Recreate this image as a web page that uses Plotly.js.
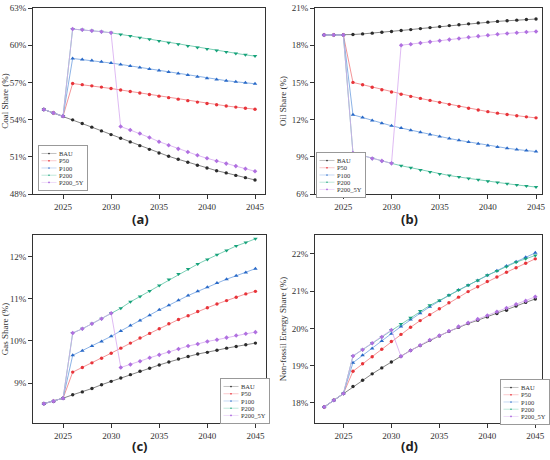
<!DOCTYPE html>
<html>
<head>
<meta charset="utf-8">
<script src="https://cdn.plot.ly/plotly-3.0.1.min.js"></script>
<style>
html,body{margin:0;padding:0;background:#fff;}
#chart{width:550px;height:460px;}
</style>
</head>
<body>
<div id="chart"></div>
<script>
// ---------------- DATA ----------------
const years = [2023,2024,2025,2026,2027,2028,2029,2030,2031,2032,2033,2034,2035,2036,2037,2038,2039,2040,2041,2042,2043,2044,2045];
const seriesNames = ['BAU','P50','P100','P200','P200_5Y'];

// (a) Coal share (%)
const coalBAU  = [54.81,54.54,54.27,53.98,53.68,53.39,53.09,52.79,52.50,52.20,51.90,51.60,51.31,51.04,50.80,50.56,50.32,50.10,49.88,49.70,49.50,49.32,49.13];
const coalP50  = [54.81,54.54,54.27,56.91,56.82,56.72,56.62,56.51,56.39,56.27,56.15,56.02,55.89,55.77,55.65,55.53,55.41,55.30,55.20,55.10,55.01,54.92,54.84];
const coalP100 = [54.81,54.54,54.27,58.93,58.85,58.76,58.66,58.56,58.45,58.33,58.21,58.09,57.96,57.84,57.71,57.59,57.46,57.34,57.24,57.14,57.05,56.97,56.89];
const coalP200 = [54.81,54.54,54.27,61.30,61.24,61.17,61.09,61.00,60.87,60.74,60.61,60.47,60.33,60.20,60.07,59.94,59.81,59.69,59.57,59.45,59.33,59.22,59.12];
const coal5Y   = [54.81,54.54,54.27,61.30,61.24,61.17,61.09,61.00,53.44,53.16,52.88,52.56,52.22,51.93,51.64,51.38,51.12,50.88,50.66,50.45,50.25,50.04,49.83];

// (b) Oil share (%)
const oilBAU  = [18.83,18.83,18.83,18.86,18.91,18.97,19.04,19.11,19.19,19.26,19.34,19.42,19.50,19.58,19.65,19.72,19.80,19.86,19.92,19.97,20.02,20.07,20.11];
const oilP50  = [18.83,18.83,18.83,15.00,14.81,14.61,14.41,14.22,14.04,13.87,13.71,13.55,13.39,13.23,13.07,12.92,12.78,12.64,12.52,12.41,12.31,12.22,12.14];
const oilP100 = [18.83,18.83,18.83,12.39,12.16,11.93,11.71,11.50,11.32,11.14,10.97,10.80,10.64,10.48,10.33,10.19,10.05,9.92,9.80,9.69,9.59,9.50,9.42];
const oilP200 = [18.83,18.83,18.83,9.31,9.09,8.87,8.67,8.47,8.28,8.11,7.94,7.77,7.61,7.49,7.37,7.25,7.14,7.03,6.93,6.83,6.73,6.64,6.56];
const oil5Y   = [18.83,18.83,18.83,9.31,9.09,8.87,8.67,8.47,18.00,18.08,18.17,18.27,18.36,18.45,18.54,18.64,18.73,18.81,18.88,18.95,19.01,19.06,19.11];

// (c) Gas share (%)
const gasBAU  = [8.51,8.57,8.64,8.72,8.79,8.87,8.96,9.04,9.12,9.20,9.28,9.35,9.43,9.50,9.57,9.63,9.69,9.73,9.78,9.83,9.87,9.91,9.95];
const gasP50  = [8.51,8.57,8.64,9.26,9.37,9.48,9.59,9.71,9.83,9.95,10.07,10.18,10.29,10.41,10.51,10.60,10.70,10.79,10.88,10.96,11.04,11.12,11.18];
const gasP100 = [8.51,8.57,8.64,9.66,9.77,9.88,9.99,10.11,10.24,10.37,10.49,10.61,10.74,10.85,10.97,11.08,11.18,11.28,11.38,11.47,11.55,11.63,11.72];
const gasP200 = [8.51,8.57,8.64,10.19,10.29,10.41,10.53,10.66,10.78,10.93,11.06,11.19,11.32,11.46,11.59,11.71,11.83,11.94,12.05,12.15,12.26,12.34,12.43];
const gas5Y   = [8.51,8.57,8.64,10.19,10.29,10.41,10.53,10.66,9.37,9.44,9.52,9.60,9.67,9.74,9.81,9.88,9.93,9.99,10.03,10.08,10.13,10.17,10.21];

// (d) Non-fossil energy share (%)
const nfBAU  = [17.89,18.07,18.25,18.44,18.61,18.78,18.94,19.10,19.25,19.41,19.54,19.68,19.80,19.92,20.03,20.13,20.22,20.31,20.40,20.49,20.60,20.70,20.79];
const nfP50  = [17.89,18.07,18.25,18.85,19.05,19.24,19.44,19.65,19.84,20.03,20.21,20.37,20.53,20.69,20.84,20.99,21.12,21.26,21.38,21.51,21.63,21.75,21.87];
const nfP100 = [17.89,18.07,18.25,19.08,19.28,19.46,19.66,19.86,20.05,20.24,20.41,20.58,20.74,20.89,21.03,21.16,21.29,21.43,21.55,21.68,21.79,21.91,22.03];
const nfP200 = [17.89,18.07,18.25,19.26,19.43,19.60,19.77,19.96,20.12,20.29,20.47,20.62,20.75,20.89,21.03,21.16,21.29,21.43,21.54,21.66,21.78,21.87,21.96];
const nf5Y   = [17.89,18.07,18.25,19.26,19.43,19.60,19.77,19.96,19.25,19.41,19.55,19.69,19.81,19.93,20.05,20.15,20.25,20.35,20.45,20.55,20.65,20.74,20.85];

const panelLabels = ['(a)','(b)','(c)','(d)'];
const yTitles = ['Coal Share (%)','Oil Share (%)','Gas Share (%)','Non-fossil Energy Share (%)'];

// ---------------- STYLE ----------------
const markerColors = ['#2b2b2b','#e8343a','#2a6ac8','#17a27a','#b070e0'];
const lineColors   = ['#666666','#f07a7e','#6ea0e0','#5cc4a3','#d6a8f0'];
const symbols      = ['circle','circle','triangle-up','triangle-down','diamond'];
const markerSizes  = [3.4,3.4,4,4,3.5];
const serif = '"Liberation Serif","Times New Roman",serif';

// legend top-left corners in pixels (final placement)
const panels = [
  {data:[coalBAU,coalP50,coalP100,coalP200,coal5Y], xd:[33/550,265/550], yd:[1-194/460,1-8/460], xr:[2021.87,2046.04], yr:[48,63], dt:3, leg:[38,145]},
  {data:[oilBAU,oilP50,oilP100,oilP200,oil5Y],     xd:[315/550,542/550], yd:[1-194/460,1-8/460], xr:[2022.06,2045.62], yr:[6,21], dt:3, leg:[316,152]},
  {data:[gasBAU,gasP50,gasP100,gasP200,gas5Y],     xd:[33/550,266/550], yd:[1-423/460,1-235/460], xr:[2021.87,2046.1], yr:[8.05,12.52], dt:1, leg:[220,378]},
  {data:[nfBAU,nfP50,nfP100,nfP200,nf5Y],          xd:[315/550,542/550], yd:[1-423/460,1-235/460], xr:[2022.04,2045.7], yr:[17.46,22.51], dt:1, leg:[500,379]}
];

const traces = [];
const layout = {
  width:550, height:460,
  margin:{l:0,r:0,t:0,b:0},
  paper_bgcolor:'#fff', plot_bgcolor:'#fff',
  showlegend:true,
  font:{family:serif, size:9, color:'#333'},
  annotations:[]
};
const legendIds = [];
panels.forEach((p,i)=>{
  const n = i+1;
  const sfx = n===1 ? '' : String(n);
  const legId = 'legend'+sfx;
  legendIds.push(legId);
  p.data.forEach((ys,k)=>{
    traces.push({
      x: years, y: ys, name: seriesNames[k],
      xaxis:'x'+sfx, yaxis:'y'+sfx, legend: legId,
      mode:'lines+markers', type:'scatter',
      line:{color:lineColors[k], width:0.8},
      marker:{color:markerColors[k], size:markerSizes[k], symbol:symbols[k], line:{width:0}},
      hoverinfo:'x+y+name'
    });
  });
  layout['xaxis'+sfx] = {
    domain:p.xd, range:p.xr, anchor:'y'+sfx,
    tick0:2025, dtick:5, ticks:'outside', ticklen:4, tickwidth:1, tickcolor:'#333',
    showline:true, mirror:true, linecolor:'#333', linewidth:1,
    showgrid:false, zeroline:false,
    tickfont:{family:serif, size:9, color:'#333'}
  };
  layout['yaxis'+sfx] = {
    domain:p.yd, range:p.yr, anchor:'x'+sfx,
    tick0:0, dtick:p.dt, ticksuffix:'%', ticks:'outside', ticklen:4, tickwidth:1, tickcolor:'#333',
    showline:true, mirror:true, linecolor:'#333', linewidth:1,
    showgrid:false, zeroline:false,
    tickfont:{family:serif, size:9, color:'#333'},
    title:{text:yTitles[i], font:{family:serif, size:9, color:'#333'}, standoff:3}
  };
  // drawn first at a safe spot inside the paper, then moved and shrunk
  layout[legId] = {
    x:0.1, y:0.9, xanchor:'left', yanchor:'top',
    bgcolor:'#fff', bordercolor:'#999', borderwidth:2,
    font:{family:serif, size:13, color:'#333'},
    itemwidth:30, tracegroupgap:0
  };
  layout.annotations.push({
    text:panelLabels[i], xref:'paper', yref:'paper',
    x: i%2===0 ? 0.255 : 0.745, y: i<2 ? 1-219/460 : 1-446/460,
    xanchor:'center', yanchor:'middle', showarrow:false,
    font:{family:'"Noto Sans", sans-serif', size:13, color:'#222', weight:'bold'}
  });
});

const gd = document.getElementById('chart');
Plotly.newPlot(gd, traces, layout, {displayModeBar:false, staticPlot:true}).then(()=>{
  // compact the legends to match the reference's small boxed legends
  const SCALE = 0.5, STEP = 14.5;
  legendIds.forEach((id,i)=>{
    const g = gd.querySelector('g.infolayer > g.'+id);
    if(!g) return;
    const items = g.querySelectorAll('g.traces');
    let y0 = null, oldLast = 0, newLast = 0;
    items.forEach((it,idx)=>{
      const tr = it.getAttribute('transform') || '';
      const m = tr.match(/translate\(\s*([-\d.e]+)[ ,]+([-\d.e]+)\s*\)/);
      if(!m) return;
      const x = parseFloat(m[1]), y = parseFloat(m[2]);
      if(y0===null) y0 = y;
      const ny = y0 + idx*STEP;
      oldLast = y; newLast = ny;
      it.setAttribute('transform', 'translate('+x+','+ny+')');
    });
    const bg = g.querySelector('rect.bg');
    if(bg){
      const h = parseFloat(bg.getAttribute('height'));
      bg.setAttribute('height', h - (oldLast-newLast));
    }
    const pos = panels[i].leg;
    g.setAttribute('transform', 'translate('+pos[0]+','+pos[1]+') scale('+SCALE+')');
  });
});
</script>
</body>
</html>
